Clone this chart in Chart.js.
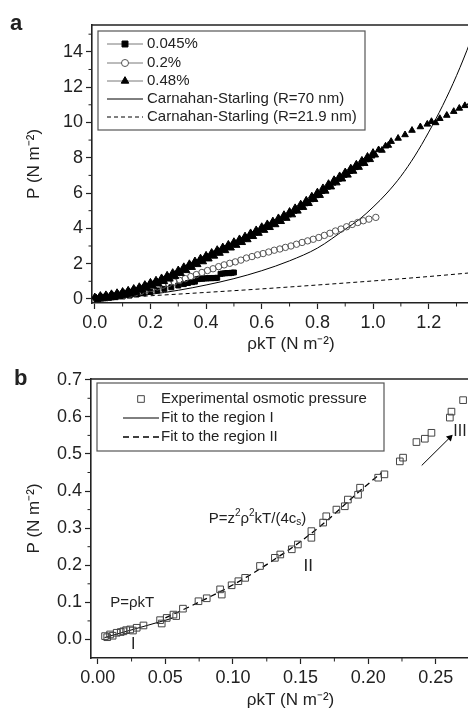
<!DOCTYPE html>
<html>
<head>
<meta charset="utf-8">
<script src="https://cdn.jsdelivr.net/npm/chart.js"></script>
<style>
  html, body { margin: 0; padding: 0; background: #fff; overflow: hidden; width: 468px; height: 711px; }
  #chartA { position: absolute; left: 0; top: 0; }
  #chartB { position: absolute; left: 0; top: 359px; }
</style>
</head>
<body>
<canvas id="chartA" width="500" height="359"></canvas>
<canvas id="chartB" width="500" height="352"></canvas>
<script>
// ---- panel a data ----
var xTicksA = [0, 0.2, 0.4, 0.6, 0.8, 1.0, 1.2, 1.4];
var xMinorA = [0.1, 0.3, 0.5, 0.7, 0.9, 1.1, 1.3];
var yTicksA = [0, 2, 4, 6, 8, 10, 12, 14];
var yMinorA = [1, 3, 5, 7, 9, 11, 13, 15];

// 0.045 % (filled squares)
var pts045 = [[0.005,0.02],[0.025,0.04],[0.05,0.07],[0.075,0.1],[0.1,0.14],[0.125,0.19],[0.15,0.25],
  [0.175,0.32],[0.2,0.4],[0.225,0.48],[0.25,0.57],[0.275,0.66],[0.3,0.76],[0.32,0.84],[0.335,0.9],
  [0.35,0.95],[0.36,0.98],[0.37,1.12],[0.378,1.15],[0.386,1.14],[0.394,1.17],[0.402,1.16],[0.41,1.18],
  [0.418,1.17],[0.426,1.19],[0.434,1.18],[0.44,1.2],[0.452,1.42],[0.46,1.44],[0.468,1.45],[0.476,1.47],
  [0.484,1.46],[0.492,1.48],[0.5,1.5]];

// 0.2 % (open circles)
var pts02 = [[0.005,0.02],[0.025,0.04],[0.045,0.07],[0.065,0.11],[0.085,0.15],[0.105,0.21],[0.125,0.27],
  [0.145,0.34],[0.165,0.42],[0.185,0.52],[0.205,0.6],[0.225,0.68],[0.245,0.78],[0.265,0.87],[0.285,0.96],
  [0.305,1.05],[0.325,1.15],[0.345,1.27],[0.365,1.38],[0.385,1.5],[0.405,1.61],[0.425,1.71],[0.445,1.83],
  [0.465,1.93],[0.485,2.02],[0.505,2.1],[0.525,2.2],[0.545,2.32],[0.565,2.4],[0.585,2.5],[0.605,2.57],
  [0.625,2.66],[0.645,2.76],[0.665,2.83],[0.685,2.92],[0.705,3.0],[0.725,3.1],[0.745,3.2],[0.765,3.29],
  [0.785,3.38],[0.805,3.48],[0.825,3.6],[0.845,3.72],[0.865,3.85],[0.885,3.96],[0.905,4.09],[0.925,4.22],
  [0.945,4.33],[0.965,4.43],[0.985,4.52],[1.01,4.62]];

// 0.48 % (filled triangles) - dense band up to ~1.07, sparse after
var pts048 = [[0,0.12],[0.01,-0.05],[0.02,0.2],[0.03,0.0],[0.04,0.24],[0.05,0.04],[0.06,0.3],[0.07,0.08],
  [0.08,0.36],[0.09,0.14],[0.1,0.43],[0.11,0.21],[0.12,0.5],[0.13,0.28],[0.14,0.6],[0.15,0.37],
  [0.16,0.7],[0.17,0.49],[0.18,0.82],[0.19,0.6],[0.2,0.95],[0.21,0.72],[0.22,1.07],[0.23,0.84],
  [0.24,1.2],[0.25,0.98],[0.26,1.35],[0.27,1.12],[0.28,1.5],[0.29,1.27],[0.3,1.65],[0.31,1.44],
  [0.32,1.83],[0.33,1.6],[0.34,2.0],[0.35,1.78],[0.36,2.16],[0.37,1.94],[0.38,2.32],[0.39,2.1],
  [0.4,2.48],[0.41,2.26],[0.42,2.64],[0.43,2.42],[0.44,2.8],[0.45,2.58],[0.46,2.95],[0.47,2.73],
  [0.48,3.1],[0.49,2.88],[0.5,3.25],[0.51,3.03],[0.52,3.41],[0.53,3.19],[0.54,3.57],[0.55,3.35],
  [0.56,3.75],[0.57,3.53],[0.58,3.92],[0.59,3.71],[0.6,4.1],[0.61,3.88],[0.62,4.26],[0.63,4.04],
  [0.64,4.42],[0.65,4.2],[0.66,4.6],[0.67,4.38],[0.68,4.78],[0.69,4.56],[0.7,4.96],[0.71,4.76],
  [0.72,5.17],[0.73,4.97],[0.74,5.38],[0.75,5.18],[0.76,5.6],[0.77,5.4],[0.78,5.83],[0.79,5.63],
  [0.8,6.06],[0.81,5.86],[0.82,6.3],[0.83,6.1],[0.84,6.54],[0.85,6.34],[0.86,6.76],[0.87,6.57],
  [0.88,6.98],[0.89,6.79],[0.9,7.2],[0.91,7.01],[0.92,7.42],[0.93,7.23],[0.94,7.64],[0.95,7.45],
  [0.96,7.86],[0.97,7.67],[0.98,8.08],[0.99,7.89],[1.0,8.3],[1.008,8.15],[1.02,8.45],[1.032,8.42],
  [1.045,8.66],[1.055,8.7],[1.065,8.92],[1.09,9.1],[1.115,9.3],[1.14,9.55],[1.17,9.75],[1.195,9.9],
  [1.21,10.05],[1.225,9.98],[1.24,10.22],[1.265,10.4],[1.29,10.62],[1.31,10.8],[1.33,10.95],[1.35,11.1],
  [1.375,11.25],
  [0.005,0.06],[0.015,0.08],[0.025,0.1],[0.035,0.12],[0.045,0.14],[0.055,0.165],[0.065,0.195],[0.075,0.225],
  [0.085,0.255],[0.095,0.285],[0.105,0.32],[0.115,0.36],[0.125,0.4],[0.135,0.44],[0.145,0.48],[0.155,0.53],
  [0.165,0.59],[0.175,0.65],[0.185,0.71],[0.195,0.77],[0.205,0.83],[0.215,0.895],[0.225,0.96],[0.235,1.025],
  [0.245,1.09],[0.255,1.16],[0.265,1.235],[0.275,1.31],[0.285,1.385],[0.295,1.46],[0.305,1.545],[0.315,1.63],
  [0.325,1.715],[0.335,1.8],[0.345,1.885],[0.355,1.97],[0.365,2.05],[0.375,2.13],[0.385,2.21],[0.395,2.29],
  [0.405,2.37],[0.415,2.45],[0.425,2.53],[0.435,2.61],[0.445,2.69],[0.455,2.765],[0.465,2.84],[0.475,2.915],
  [0.485,2.99],[0.495,3.065],[0.505,3.14],[0.515,3.22],[0.525,3.3],[0.535,3.38],[0.545,3.46],[0.555,3.545],
  [0.565,3.635],[0.575,3.725],[0.585,3.815],[0.595,3.905],[0.605,3.99],[0.615,4.07],[0.625,4.15],[0.635,4.23],
  [0.645,4.31],[0.655,4.395],[0.665,4.485],[0.675,4.575],[0.685,4.665],[0.695,4.755],[0.705,4.855],[0.715,4.96],
  [0.725,5.065],[0.735,5.17],[0.745,5.275],[0.755,5.385],[0.765,5.5],[0.775,5.615],[0.785,5.73],[0.795,5.845],
  [0.805,5.96],[0.815,6.08],[0.825,6.2],[0.835,6.32],[0.845,6.44],[0.855,6.555],[0.865,6.665],[0.875,6.775],
  [0.885,6.885],[0.895,6.995],[0.905,7.105],[0.915,7.215],[0.925,7.325],[0.935,7.435],[0.945,7.545],[0.955,7.655],
  [0.965,7.765],[0.975,7.875],[0.985,7.985],[0.995,8.095]];

// Carnahan-Starling curves
var cs70 = [[0,0],[0.1,0.1],[0.2,0.26],[0.3,0.49],[0.4,0.79],[0.5,1.15],[0.6,1.6],[0.7,2.16],[0.8,2.88],
  [0.9,3.95],[0.95,4.5],[1.0,5.2],[1.05,6.0],[1.1,6.95],[1.15,8.1],[1.2,9.45],[1.25,10.95],[1.3,12.65],
  [1.35,14.6],[1.4,16.8]];
var cs219 = [[0,0],[0.2,0.18],[0.4,0.37],[0.6,0.57],[0.8,0.79],[1.0,1.02],[1.2,1.27],[1.4,1.55]];

// ---- panel b data ----
var xTicksB = [0, 0.05, 0.1, 0.15, 0.2, 0.25];
var xMinorB = [0.025, 0.075, 0.125, 0.175, 0.225, 0.275];
var yTicksB = [0, 0.1, 0.2, 0.3, 0.4, 0.5, 0.6, 0.7];
var yMinorB = [0.05, 0.15, 0.25, 0.35, 0.45, 0.55, 0.65];

var osmotic = [[0.0054,0.009],[0.007,0.006],[0.0091,0.0135],[0.011,0.01],[0.014,0.018],[0.017,0.02],
  [0.019,0.022],[0.021,0.025],[0.024,0.027],[0.026,0.024],[0.0288,0.0315],[0.0338,0.0377],[0.0461,0.052],
  [0.0473,0.043],[0.051,0.058],[0.056,0.067],[0.058,0.063],[0.063,0.083],[0.0745,0.103],[0.0806,0.111],
  [0.0905,0.135],[0.0917,0.121],[0.099,0.146],[0.104,0.157],[0.109,0.166],[0.12,0.198],[0.131,0.22],
  [0.135,0.229],[0.1435,0.243],[0.148,0.256],[0.158,0.292],[0.158,0.274],[0.1667,0.315],[0.169,0.332],
  [0.1765,0.35],[0.1827,0.359],[0.185,0.377],[0.1925,0.39],[0.194,0.409],[0.2074,0.436],[0.212,0.445],
  [0.2234,0.48],[0.2258,0.49],[0.2357,0.532],[0.2419,0.541],[0.2468,0.557],[0.2604,0.598],[0.2616,0.614],
  [0.2702,0.645]];
var fitI = [[0.005,0.005],[0.055,0.057]];
var fitII = [[0.05,0.058],[0.07,0.092],[0.09,0.128],[0.11,0.168],[0.13,0.214],[0.15,0.264],[0.17,0.322],
  [0.19,0.388],[0.21,0.45]];
var arrowIII = [[0.2396,0.469],[0.2604,0.544]];

var fam = "'Liberation Sans', Arial, Helvetica, sans-serif";
var ink = '#222';

function toXY(arr) {
  return arr.map(function (p) { return { x: p[0], y: p[1] }; });
}

function drawMarker(ctx, style, r, x, y) {
  ctx.beginPath();
  if (style === 'rect') {
    var s = Math.SQRT1_2 * r;
    ctx.rect(x - s, y - s, 2 * s, 2 * s);
  } else if (style === 'triangle') {
    ctx.moveTo(x, y - r);
    ctx.lineTo(x + r * Math.sin(2 * Math.PI / 3), y - r * Math.cos(2 * Math.PI / 3));
    ctx.lineTo(x + r * Math.sin(4 * Math.PI / 3), y - r * Math.cos(4 * Math.PI / 3));
    ctx.closePath();
  } else {
    ctx.arc(x, y, r, 0, Math.PI * 2);
  }
  ctx.fill();
  ctx.stroke();
}

function drawRich(ctx, parts, x, y, size) {
  ctx.textAlign = 'left';
  ctx.textBaseline = 'middle';
  parts.forEach(function (p) {
    var fs = p.s ? Math.round(size * 0.66) : size;
    ctx.font = fs + 'px ' + fam;
    var dy = p.s === 1 ? -size * 0.38 : (p.s === -1 ? size * 0.28 : 0);
    ctx.fillText(p.t, x, y + dy);
    x += ctx.measureText(p.t).width;
  });
  return x;
}

// frame, minor ticks, legend box, notes and panel letter
function makeDecor(cfg) {
  return {
    id: 'decor',
    afterDraw: function (chart) {
      var ctx = chart.ctx, ca = chart.chartArea;
      var xs = chart.scales.x, ys = chart.scales.y;
      ctx.save();
      ctx.strokeStyle = ink;
      ctx.lineWidth = 1.5;
      ctx.beginPath();
      ctx.moveTo(ca.left, ca.top);
      ctx.lineTo(ca.right, ca.top);
      ctx.lineTo(ca.right, ca.bottom);
      ctx.stroke();

      ctx.lineWidth = 1;
      ctx.beginPath();
      cfg.xMinor.forEach(function (v) {
        var px = xs.getPixelForValue(v);
        ctx.moveTo(px, ca.bottom);
        ctx.lineTo(px, ca.bottom + 3.5);
      });
      cfg.yMinor.forEach(function (v) {
        var py = ys.getPixelForValue(v);
        ctx.moveTo(ca.left, py);
        ctx.lineTo(ca.left - 3.5, py);
      });
      ctx.stroke();

      // legend
      var lg = cfg.legend;
      var bx = ca.left + lg.dx, by = ca.top + lg.dy;
      ctx.strokeStyle = '#555';
      ctx.lineWidth = 1.2;
      ctx.strokeRect(bx, by, lg.w, lg.h);
      lg.rows.forEach(function (row, i) {
        var ds = chart.data.datasets[row.ds];
        var yy = by + lg.rowY[i];
        var x0 = bx + lg.lineX0, x1 = bx + lg.lineX1;
        if (ds.pointRadius > 0 && !ds.showLine) {
          if (row.line) {
            ctx.strokeStyle = '#555';
            ctx.lineWidth = 0.8;
            ctx.setLineDash([]);
            ctx.beginPath();
            ctx.moveTo(x0, yy);
            ctx.lineTo(x1, yy);
            ctx.stroke();
          }
          ctx.fillStyle = ds.backgroundColor === 'rgba(255,255,255,0)' ? '#fff' : ds.backgroundColor;
          ctx.strokeStyle = ds.borderColor;
          ctx.lineWidth = ds.borderWidth;
          drawMarker(ctx, ds.pointStyle, ds.pointRadius * (row.scale || 1), (x0 + x1) / 2, yy);
        } else {
          ctx.strokeStyle = ds.borderColor;
          ctx.lineWidth = ds.borderWidth;
          ctx.setLineDash(ds.borderDash || []);
          ctx.beginPath();
          ctx.moveTo(x0, yy);
          ctx.lineTo(x1, yy);
          ctx.stroke();
          ctx.setLineDash([]);
        }
        ctx.fillStyle = ink;
        ctx.font = '15px ' + fam;
        ctx.textAlign = 'left';
        ctx.textBaseline = 'middle';
        ctx.fillText(ds.label, bx + lg.textX, yy);
      });

      // text notes placed at data coordinates
      ctx.fillStyle = ink;
      (cfg.notes || []).forEach(function (n) {
        var px = xs.getPixelForValue(n.x), py = ys.getPixelForValue(n.y);
        if (n.center) {
          ctx.font = n.size + 'px ' + fam;
          var w = 0;
          n.parts.forEach(function (p) { w += ctx.measureText(p.t).width; });
          px -= w / 2;
        }
        drawRich(ctx, n.parts, px, py, n.size);
      });

      ctx.font = 'bold 22px ' + fam;
      ctx.textAlign = 'left';
      ctx.textBaseline = 'alphabetic';
      ctx.fillText(cfg.letter.t, cfg.letter.x, cfg.letter.y);
      ctx.restore();
    }
  };
}

function axis(min, max, ticks, digits, title, fitSize, horizontal, titlePadBottom) {
  return {
    type: 'linear',
    min: min,
    max: max,
    afterBuildTicks: function (ax) {
      ax.ticks = ticks.map(function (v) { return { value: v }; });
    },
    afterFit: function (ax) {
      if (horizontal) ax.height = fitSize; else ax.width = fitSize;
    },
    ticks: {
      callback: function (v) { return Number(v).toFixed(digits); },
      font: { family: fam, size: 18 },
      color: ink,
      padding: 3,
      maxRotation: 0,
      autoSkip: false
    },
    grid: { drawOnChartArea: false, tickLength: 6, color: ink, tickWidth: 1.2 },
    border: { display: true, color: ink, width: 1.6 },
    title: {
      display: true,
      text: title,
      font: { family: fam, size: 17 },
      color: ink,
      padding: { top: 4, bottom: titlePadBottom }
    }
  };
}

// ---- chart a ----
new Chart(document.getElementById('chartA'), {
  type: 'scatter',
  data: {
    datasets: [
      { label: '0.48%', data: toXY(pts048), pointStyle: 'triangle', pointRadius: 3.8,
        backgroundColor: '#000', borderColor: '#000', borderWidth: 1 },
      { label: '0.2%', data: toXY(pts02), pointStyle: 'circle', pointRadius: 3.2,
        backgroundColor: 'rgba(255,255,255,0)', borderColor: '#555', borderWidth: 1 },
      { label: '0.045%', data: toXY(pts045), pointStyle: 'rect', pointRadius: 3.5,
        backgroundColor: '#000', borderColor: '#000', borderWidth: 1 },
      { label: 'Carnahan-Starling (R=70 nm)', data: toXY(cs70), showLine: true, pointRadius: 0,
        borderColor: '#000', borderWidth: 1, cubicInterpolationMode: 'monotone' },
      { label: 'Carnahan-Starling (R=21.9 nm)', data: toXY(cs219), showLine: true, pointRadius: 0,
        borderColor: '#000', borderWidth: 1, borderDash: [4, 3], cubicInterpolationMode: 'monotone' }
    ]
  },
  options: {
    responsive: false,
    animation: false,
    events: [],
    layout: { padding: { left: 20, top: 25, right: 10, bottom: 0 } },
    plugins: { legend: { display: false }, tooltip: { enabled: false } },
    scales: {
      x: axis(-0.01, 1.42, xTicksA, 1, '\u03c1kT (N m\u207b\u00b2)', 56, true, 4),
      y: axis(-0.23, 15.52, yTicksA, 0, 'P (N m\u207b\u00b2)', 72, false, 4)
    }
  },
  plugins: [makeDecor({
    xMinor: xMinorA, yMinor: yMinorA,
    legend: { dx: 6, dy: 6, w: 267, h: 99, lineX0: 9, lineX1: 45, textX: 49,
      rowY: [13, 32, 50, 68, 86],
      rows: [{ ds: 2, line: true, scale: 1.2 }, { ds: 1, line: true, scale: 1.1 },
        { ds: 0, line: true, scale: 1.15 }, { ds: 3 }, { ds: 4 }] },
    letter: { t: 'a', x: 10, y: 30 }
  })]
});

// ---- chart b ----
new Chart(document.getElementById('chartB'), {
  type: 'scatter',
  data: {
    datasets: [
      { label: 'Experimental osmotic pressure', data: toXY(osmotic), pointStyle: 'rect', pointRadius: 4.7,
        backgroundColor: 'rgba(255,255,255,0)', borderColor: '#444', borderWidth: 1 },
      { label: 'Fit to the region I', data: toXY(fitI), showLine: true, pointRadius: 0,
        borderColor: '#000', borderWidth: 1 },
      { label: 'Fit to the region II', data: toXY(fitII), showLine: true, pointRadius: 0,
        borderColor: '#000', borderWidth: 1.3, borderDash: [6, 4], cubicInterpolationMode: 'monotone' },
      { label: 'arrow', data: toXY(arrowIII), showLine: true, pointRadius: [0, 4], pointStyle: 'triangle',
        pointRotation: 45, pointBackgroundColor: '#000', pointBorderColor: '#000', pointBorderWidth: 0,
        borderColor: '#000', borderWidth: 1 }
    ]
  },
  options: {
    responsive: false,
    animation: false,
    events: [],
    layout: { padding: { left: 20, top: 20, right: 10, bottom: 0 } },
    plugins: { legend: { display: false }, tooltip: { enabled: false } },
    scales: {
      x: axis(-0.005, 0.2901, xTicksB, 2, '\u03c1kT (N m\u207b\u00b2)', 53, true, 0),
      y: axis(-0.05, 0.702, yTicksB, 1, 'P (N m\u207b\u00b2)', 71, false, 4)
    }
  },
  plugins: [makeDecor({
    xMinor: xMinorB, yMinor: yMinorB,
    legend: { dx: 6, dy: 4, w: 287, h: 68, lineX0: 26, lineX1: 62, textX: 64,
      rowY: [16, 35, 54],
      rows: [{ ds: 0, scale: 1 }, { ds: 1 }, { ds: 2 }] },
    notes: [
      { x: 0.0092, y: 0.099, size: 15, parts: [{ t: 'P=\u03c1kT' }] },
      { x: 0.0263, y: -0.013, size: 16, center: true, parts: [{ t: 'I' }] },
      { x: 0.082, y: 0.326, size: 15, parts: [{ t: 'P=z' }, { t: '2', s: 1 }, { t: '\u03c1' }, { t: '2', s: 1 },
        { t: 'kT/(4c' }, { t: 's', s: -1 }, { t: ')' }] },
      { x: 0.1557, y: 0.198, size: 17, center: true, parts: [{ t: 'II' }] },
      { x: 0.2679, y: 0.561, size: 16, center: true, parts: [{ t: 'III' }] }
    ],
    letter: { t: 'b', x: 14, y: 26 }
  })]
});
</script>
</body>
</html>
